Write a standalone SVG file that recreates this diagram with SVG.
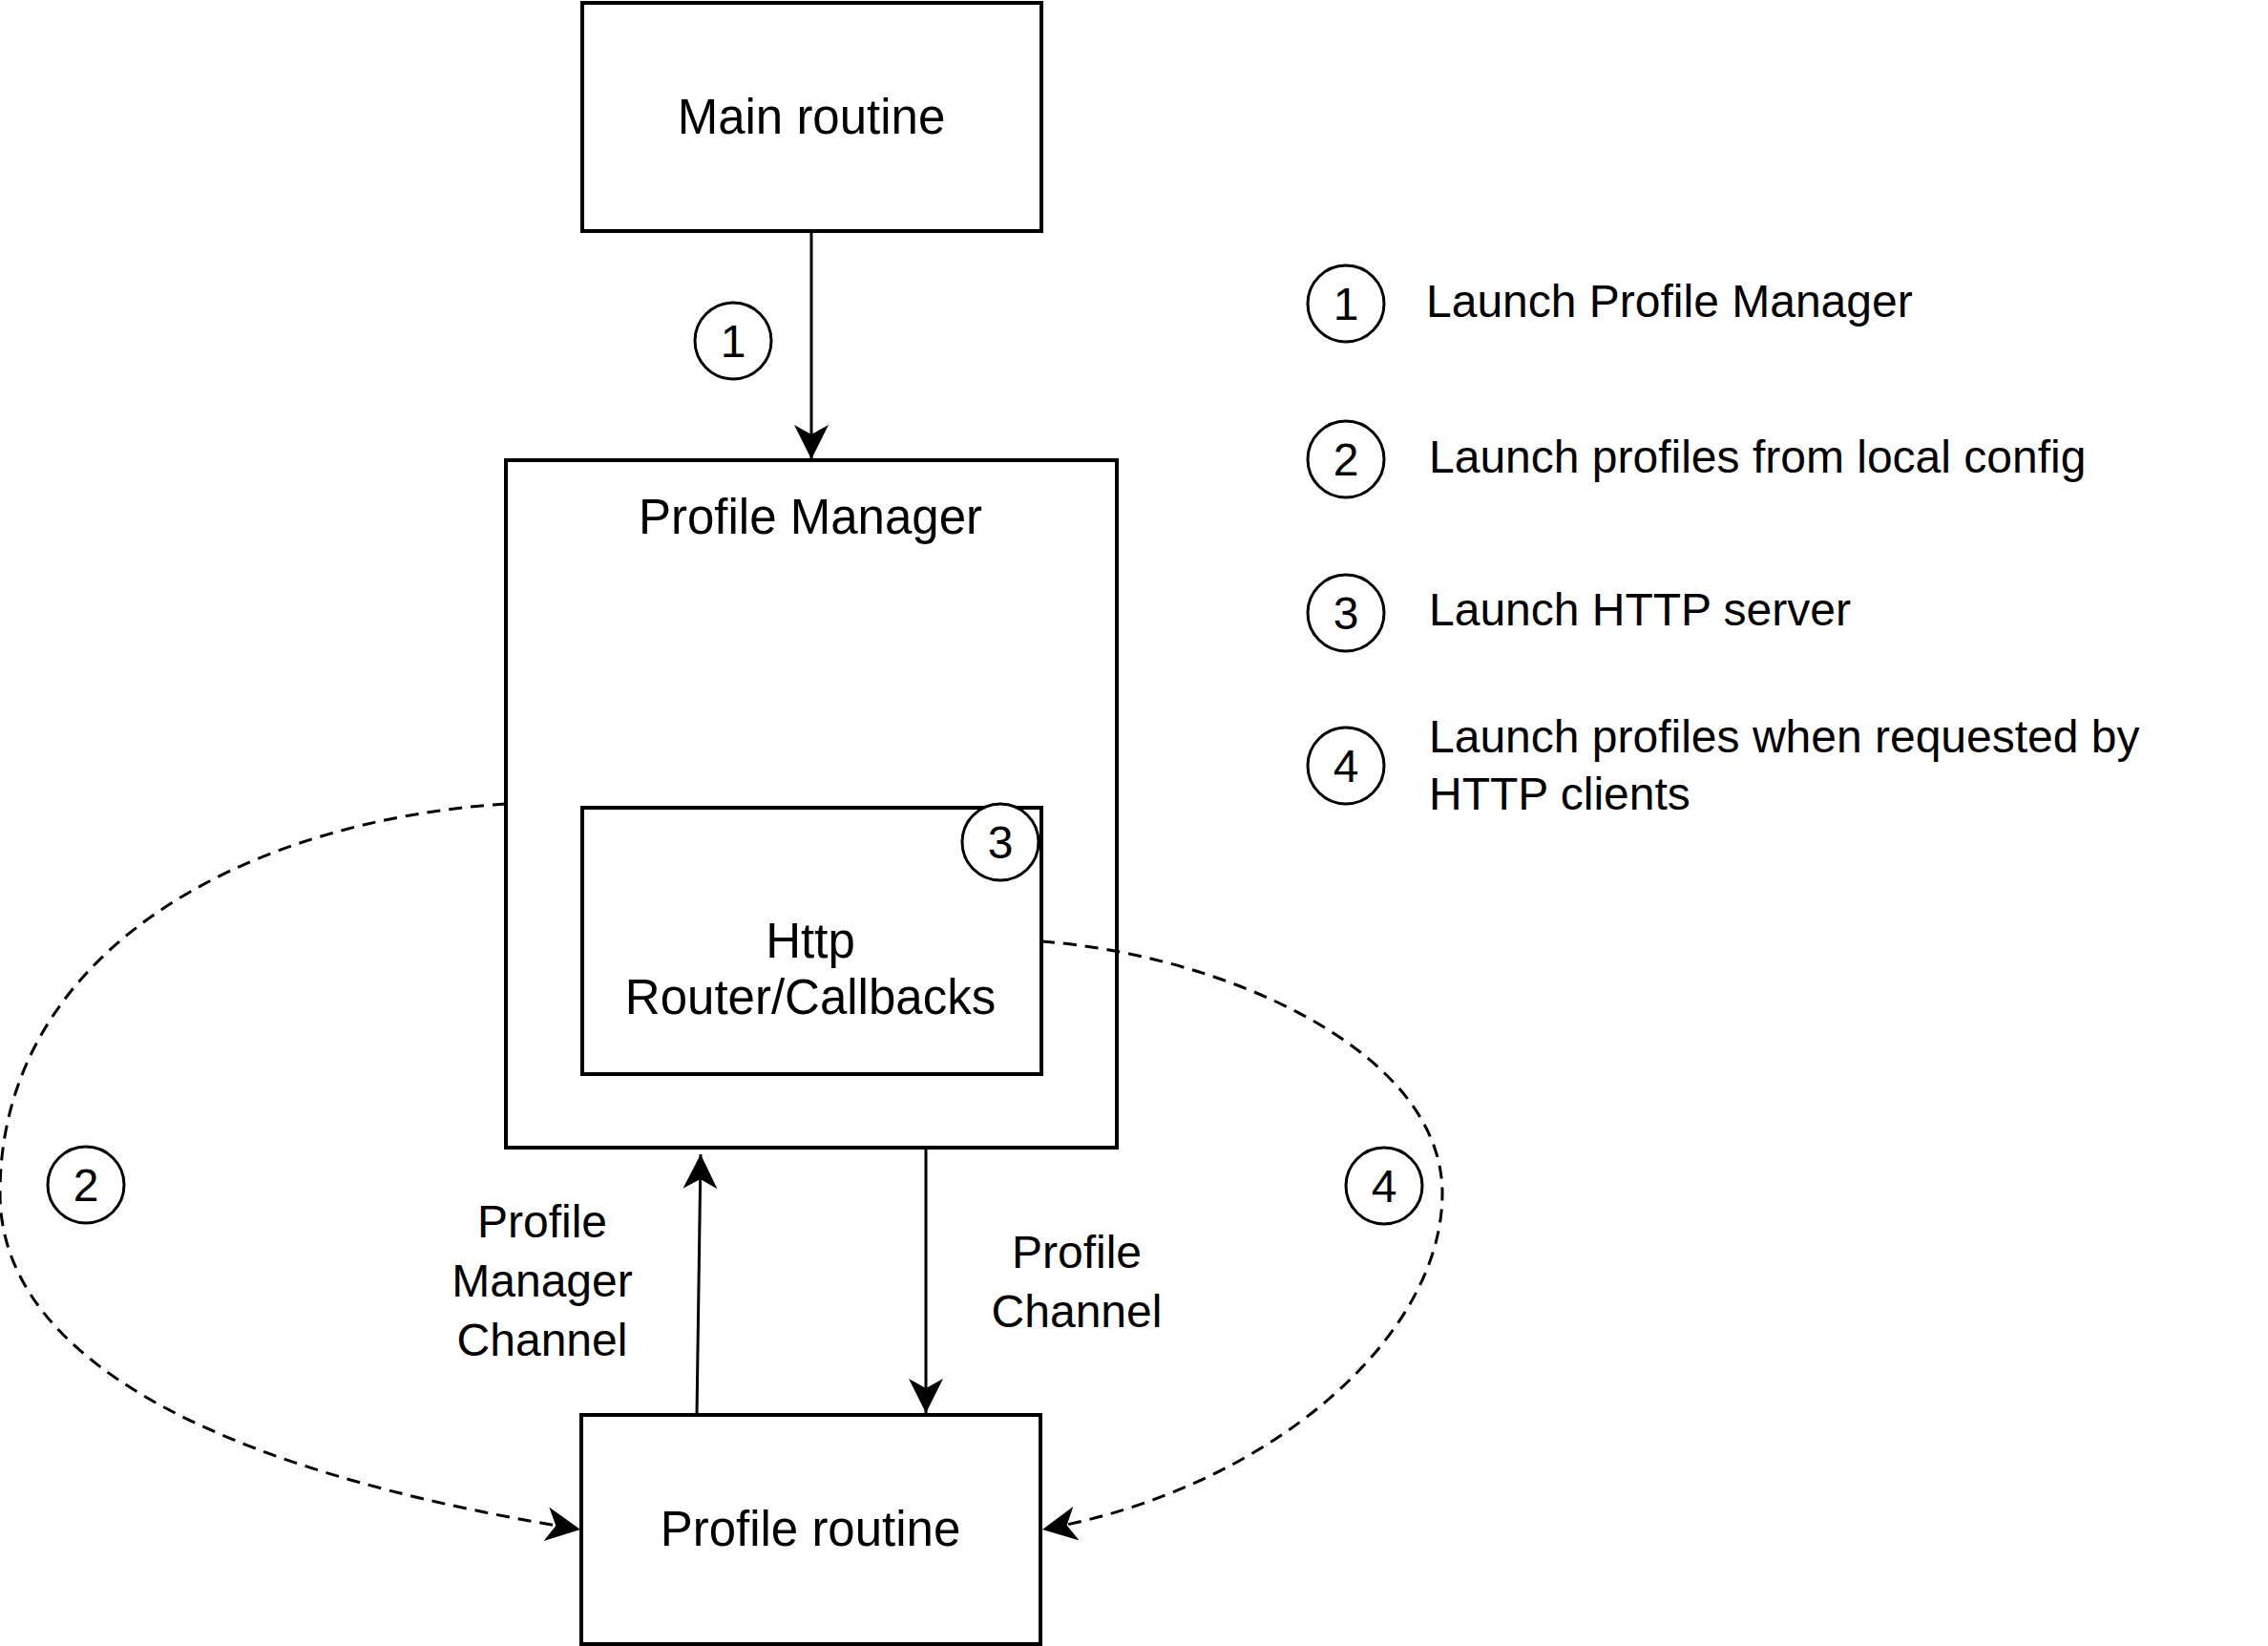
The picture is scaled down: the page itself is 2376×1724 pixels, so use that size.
<svg xmlns="http://www.w3.org/2000/svg" width="2376" height="1724" viewBox="0 0 2376 1724">
<style>
.box{fill:#fff;stroke:#000;stroke-width:4}
.num{fill:#fff;stroke:#000;stroke-width:3}
.t{font-family:"Liberation Sans",Arial,sans-serif;fill:#000}
.bl{font-size:51px;text-anchor:middle}
.el{font-size:48px;text-anchor:middle}
.lg{font-size:48px}
.edge{fill:none;stroke:#000;stroke-width:3}
.dash{stroke-dasharray:14 9}
</style>
<defs>
<marker id="arr" markerUnits="userSpaceOnUse" markerWidth="40" markerHeight="40" viewBox="0 0 40 40" refX="36" refY="18" orient="auto">
<path d="M0,0 L36,18 L0,36 L10,18 Z" fill="#000"/>
</marker>
</defs>
<rect width="2376" height="1724" fill="#fff"/>
<g id="main-routine">
<rect class="box" x="610" y="3" width="481" height="239"/>
<text class="t bl" x="850" y="140">Main routine</text>
</g>
<g id="profile-manager">
<rect class="box" x="530" y="482" width="640" height="720"/>
<text class="t bl" x="849" y="559">Profile Manager</text>
</g>
<g id="http-router">
<rect class="box" x="610" y="846" width="481" height="279"/>
<text class="t bl" x="849" y="1003">Http</text>
<text class="t bl" x="849" y="1062">Router/Callbacks</text>
</g>
<g id="profile-routine">
<rect class="box" x="609" y="1482" width="481" height="240"/>
<text class="t bl" x="849" y="1619">Profile routine</text>
</g>
<g id="connectors">
<path class="edge" d="M850,242 L850,481" marker-end="url(#arr)"/>
<path class="edge" d="M730,1482 L734,1209" marker-end="url(#arr)"/>
<path class="edge" d="M970,1202 L970,1480" marker-end="url(#arr)"/>
<path class="edge dash" d="M530,842 C250,860 0,1000 0,1250 C0,1420 220,1540 608,1602" marker-end="url(#arr)"/>
<path class="edge dash" d="M1091,986 C1280,1000 1511,1100 1511,1250 C1511,1400 1330,1560 1092,1602" marker-end="url(#arr)"/>
<text class="t el" x="568" y="1296">Profile</text>
<text class="t el" x="568" y="1358">Manager</text>
<text class="t el" x="568" y="1420">Channel</text>
<text class="t el" x="1128" y="1328">Profile</text>
<text class="t el" x="1128" y="1390">Channel</text>
</g>
<g id="step-1">
<circle class="num" cx="768" cy="357" r="40"/>
<text class="t el" x="768" y="374">1</text>
</g>
<g id="step-3">
<circle class="num" cx="1048" cy="882" r="40"/>
<text class="t el" x="1048" y="899">3</text>
</g>
<g id="step-2">
<circle class="num" cx="90" cy="1241" r="40"/>
<text class="t el" x="90" y="1258">2</text>
</g>
<g id="step-4">
<circle class="num" cx="1450" cy="1242" r="40"/>
<text class="t el" x="1450" y="1259">4</text>
</g>
<g id="legend">
<circle class="num" cx="1410" cy="318" r="40"/>
<text class="t el" x="1410" y="335">1</text>
<text class="t lg" x="1494" y="332">Launch Profile Manager</text>
<circle class="num" cx="1410" cy="481" r="40"/>
<text class="t el" x="1410" y="498">2</text>
<text class="t lg" x="1497" y="495">Launch profiles from local config</text>
<circle class="num" cx="1410" cy="642" r="40"/>
<text class="t el" x="1410" y="659">3</text>
<text class="t lg" x="1497" y="655">Launch HTTP server</text>
<circle class="num" cx="1410" cy="802" r="40"/>
<text class="t el" x="1410" y="819">4</text>
<text class="t lg" x="1497" y="788">Launch profiles when requested by</text>
<text class="t lg" x="1497" y="848">HTTP clients</text>
</g>
</svg>
